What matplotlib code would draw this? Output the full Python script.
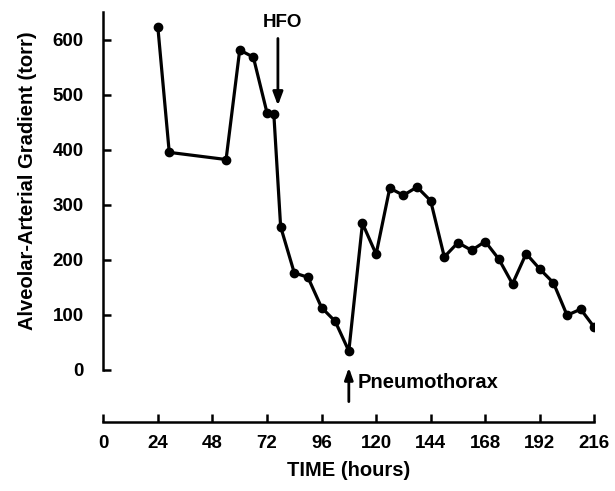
import matplotlib
matplotlib.use("Agg")
import matplotlib.pyplot as plt

# 数据：时间（小时）与肺泡-动脉梯度（torr）
hours = [24, 29, 54, 60, 66, 72, 75, 78, 84, 90, 96, 102, 108, 114, 120, 126,
         132, 138, 144, 150, 156, 162, 168, 174, 180, 186, 192, 198, 204, 210, 216]
gradient = [622, 395, 382, 581, 568, 467, 465, 260, 176, 168, 113, 88, 34, 266, 210, 330,
            317, 332, 307, 205, 231, 217, 233, 201, 156, 211, 183, 158, 99, 110, 77]

x_ticks = [0, 24, 48, 72, 96, 120, 144, 168, 192, 216]
y_ticks = [0, 100, 200, 300, 400, 500, 600]

plt.rcParams['font.family'] = ['Liberation Sans', 'DejaVu Sans']
plt.rcParams['font.weight'] = 'bold'

fig = plt.figure(figsize=(6.15, 4.91), dpi=100)
ax = fig.add_axes([0.168, 0.1405, 0.7984, 0.835])

ax.plot(hours, gradient, color='black', lw=2.3, marker='o', ms=6)

ax.set_xlim(0, 216)
ax.set_ylim(-95, 650)

for s in ['top', 'right']:
    ax.spines[s].set_visible(False)
ax.spines['left'].set_bounds(0, 650)
ax.spines['left'].set_linewidth(1.8)
ax.spines['bottom'].set_linewidth(1.8)

ax.set_xticks(x_ticks)
ax.set_yticks(y_ticks)
ax.tick_params(axis='both', direction='in', length=6, width=1.8, labelsize=13.5)
ax.tick_params(axis='x', pad=9)
ax.tick_params(axis='y', pad=14)
for lab in ax.get_xticklabels() + ax.get_yticklabels():
    lab.set_fontweight('bold')

ax.set_xlabel("TIME (hours)", fontsize=14.5, fontweight='bold', labelpad=7)
fig.text(28 / 615, 1 - 181 / 491, "Alveolar-Arterial Gradient (torr)",
         rotation=90, ha='center', va='center', fontsize=14.5, fontweight='bold')

# 箭头标注
ax.annotate("", xy=(76.8, 475), xytext=(76.8, 607),
            arrowprops=dict(arrowstyle='-|>,head_width=0.3,head_length=0.8',
                            color='black', lw=2))
ax.text(79, 631, "HFO", ha='center', va='center', fontsize=13.5, fontweight='bold')

ax.annotate("", xy=(108, 9), xytext=(108, -63),
            arrowprops=dict(arrowstyle='-|>,head_width=0.25,head_length=0.7',
                            color='black', lw=2))
ax.text(112, -24, "Pneumothorax", ha='left', va='center', fontsize=14.5, fontweight='bold')

fig.savefig("out.png", dpi=100)
